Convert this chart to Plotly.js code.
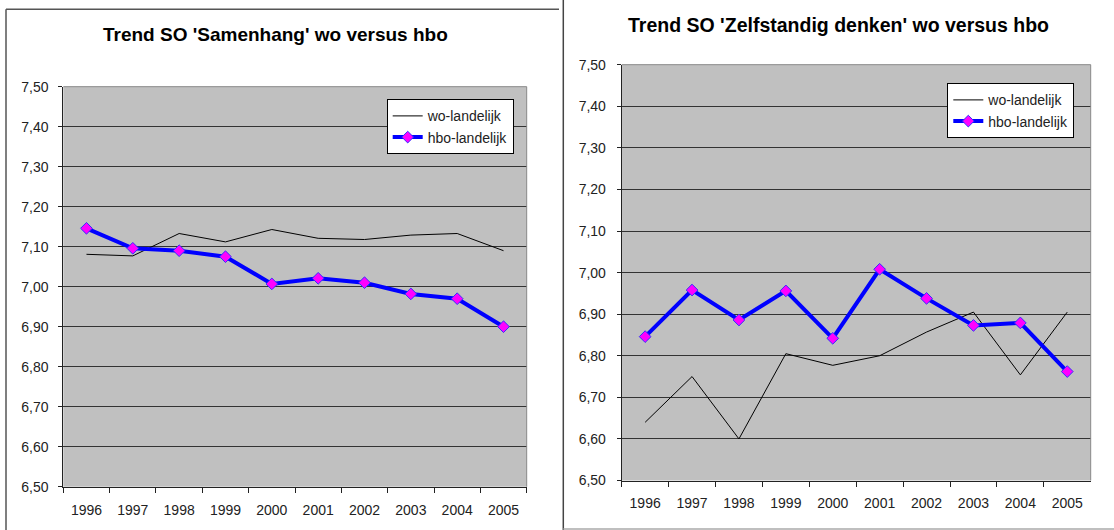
<!DOCTYPE html>
<html>
<head>
<meta charset="utf-8">
<script src="https://cdn.plot.ly/plotly-3.0.1.min.js"></script>
<style>html,body{margin:0;padding:0;background:#fff;}#chart{width:1114px;height:530px;}</style>
</head>
<body>
<div id="chart"></div>
<script>
var years = ['1996','1997','1998','1999','2000','2001','2002','2003','2004','2005'];
var samenhangWo  = [7.081, 7.077, 7.133, 7.112, 7.143, 7.121, 7.118, 7.129, 7.133, 7.090];
var samenhangHbo = [7.146, 7.096, 7.090, 7.075, 7.007, 7.021, 7.010, 6.982, 6.970, 6.900];
var zelfWo  = [6.640, 6.750, 6.600, 6.805, 6.777, 6.800, 6.857, 6.905, 6.754, 6.905];
var zelfHbo = [6.846, 6.958, 6.886, 6.956, 6.842, 7.008, 6.938, 6.873, 6.879, 6.762];
var seriesNames = ['wo-landelijk', 'hbo-landelijk'];
var titles = ["Trend SO 'Samenhang' wo versus hbo", "Trend SO 'Zelfstandig denken' wo versus hbo"];

var FONT = 'Liberation Sans, Arial, sans-serif';
var W = 1114, H = 530;

function woTrace(y, xa, ya, lg) {
  return {x: years, y: y, xaxis: xa, yaxis: ya, legend: lg, name: seriesNames[0],
    type: 'scatter', mode: 'lines', line: {color: '#000000', width: 1}, hoverinfo: 'skip'};
}
function hboTrace(y, xa, ya, lg) {
  return {x: years, y: y, xaxis: xa, yaxis: ya, legend: lg, name: seriesNames[1],
    type: 'scatter', mode: 'lines+markers', line: {color: '#0000FF', width: 4},
    marker: {symbol: 'diamond', size: 9, color: '#FF00FF', line: {color: '#3030FF', width: 1}},
    hoverinfo: 'skip'};
}

var data = [
  woTrace(samenhangWo, 'x', 'y', 'legend'),
  hboTrace(samenhangHbo, 'x', 'y', 'legend'),
  woTrace(zelfWo, 'x2', 'y2', 'legend2'),
  hboTrace(zelfHbo, 'x2', 'y2', 'legend2')
];

function xAxis(domain, anchor) {
  return {domain: domain, anchor: anchor, type: 'category', categoryorder: 'array', categoryarray: years,
    range: [-0.5, 9.5], tickson: 'boundaries', ticks: 'outside', ticklen: 5, tickcolor: '#222',
    showgrid: false, showline: true, linecolor: '#222', linewidth: 1, zeroline: false,
    ticklabelstandoff: 10, tickfont: {family: FONT, size: 14, color: '#222'}, fixedrange: true};
}
function yAxis(domain, anchor, standoff) {
  return {domain: domain, anchor: anchor, range: [6.5, 7.5], tick0: 6.5, dtick: 0.1, tickformat: '.2f',
    ticks: 'outside', ticklen: 4, tickcolor: '#222', showgrid: true, gridcolor: '#333', gridwidth: 1,
    showline: true, linecolor: '#222', linewidth: 1, zeroline: false, ticklabelstandoff: standoff,
    tickfont: {family: FONT, size: 14, color: '#222'}, fixedrange: true};
}

var xd1 = [63.3 / W, 526.7 / W], yd1 = [1 - 486.7 / H, 1 - 86.7 / H];
var xd2 = [621.7 / W, 1090.7 / W], yd2 = [1 - 480.5 / H, 1 - 64.7 / H];

function legendCfg(x, y) {
  return {x: x, y: y, xanchor: 'left', yanchor: 'top', xref: 'paper', yref: 'paper',
    bgcolor: '#FFFFFF', bordercolor: '#000000', borderwidth: 1,
    font: {family: FONT, size: 14, color: '#222'}, traceorder: 'normal', itemclick: false, itemdoubleclick: false};
}

function pline(x0, y0, x1, y1, color, w) {
  return {type: 'line', xref: 'paper', yref: 'paper', x0: x0, y0: y0, x1: x1, y1: y1,
    line: {color: color, width: w}, layer: 'above'};
}

var shapes = [
  pline(6 / W, 0, 6 / W, 1 - 9.3 / H, '#555', 1.5),
  pline(6 / W, 1 - 9.3 / H, 559 / W, 1 - 9.3 / H, '#555', 1.5),
  pline(563.3 / W, 0, 563.3 / W, 1, '#444', 1.5),
  pline(563.3 / W, 1 - 529 / H, 1, 1 - 529 / H, '#aaa', 1.5),
  pline(xd1[0], yd1[1], xd1[1], yd1[1], '#888', 1),
  pline(xd1[1], yd1[0], xd1[1], yd1[1], '#888', 1),
  pline(xd2[0], yd2[1], xd2[1], yd2[1], '#888', 1),
  pline(xd2[1], yd2[0], xd2[1], yd2[1], '#888', 1)
];

var annotations = [
  {text: '<b>' + titles[0] + '</b>', xref: 'paper', yref: 'paper', x: 275 / W, y: 1 - 35 / H,
    xanchor: 'center', yanchor: 'middle', showarrow: false, font: {family: FONT, size: 19, color: '#000'}},
  {text: '<b>' + titles[1] + '</b>', xref: 'paper', yref: 'paper', x: 838 / W, y: 1 - 25 / H,
    xanchor: 'center', yanchor: 'middle', showarrow: false, font: {family: FONT, size: 19.5, color: '#000'}}
];

var layout = {
  width: W, height: H, margin: {l: 0, r: 0, t: 0, b: 0, pad: 0},
  paper_bgcolor: '#FFFFFF', plot_bgcolor: '#C0C0C0',
  separators: ',.',
  showlegend: true,
  xaxis: xAxis(xd1, 'y'), yaxis: yAxis(yd1, 'x', 7),
  xaxis2: xAxis(xd2, 'y2'), yaxis2: yAxis(yd2, 'x2', 8),
  legend: legendCfg(386.7 / W, 1 - 99.3 / H),
  legend2: legendCfg(947.3 / W, 1 - 83.3 / H),
  shapes: shapes, annotations: annotations,
  font: {family: FONT}
};

Plotly.newPlot('chart', data, layout, {staticPlot: true, displayModeBar: false});
</script>
</body>
</html>
